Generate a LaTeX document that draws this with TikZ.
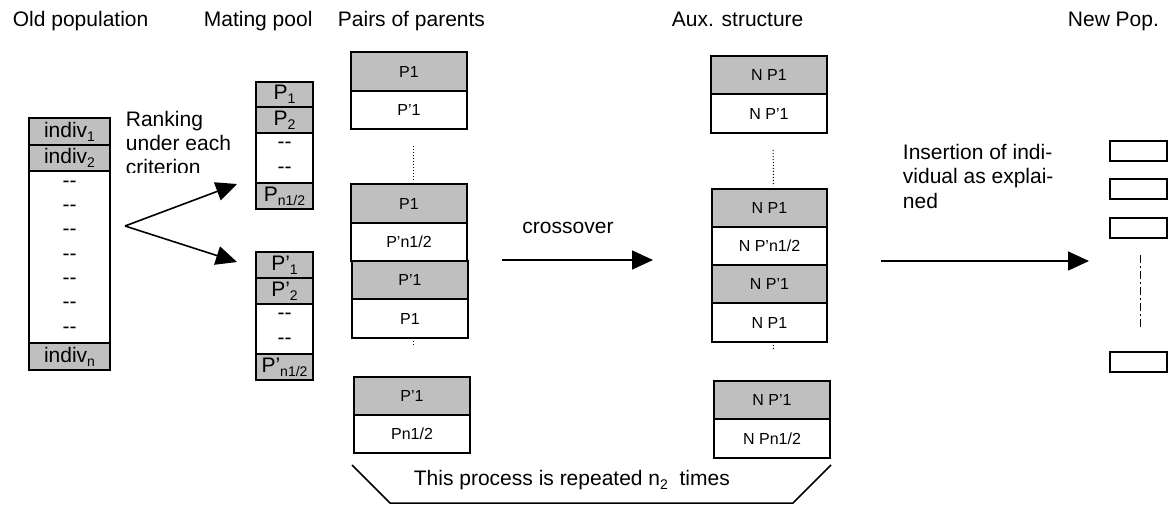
\documentclass[tikz,border=0pt]{standalone}
\usepackage{fontspec}
\setmainfont{Liberation Sans}
\usetikzlibrary{arrows.meta,positioning}

\newcommand{\lowidx}[1]{\raisebox{-4pt}{\fontsize{14}{14}\selectfont #1}}
\newcommand{\twodash}{-\kern0pt-}
\newcommand{\bigfont}{\fontsize{21}{24}\selectfont}
\newcommand{\cellfont}{\fontsize{16}{18}\selectfont}

\begin{document}
\begin{tikzpicture}[x=1pt,y=-1pt,line width=1.8pt,
    cell/.style={draw,inner sep=0pt,outer sep=0pt,anchor=north west,
      minimum width=116pt,minimum height=38pt,font=\cellfont},
    cellg/.style={cell,fill=gray!50},
    cellw/.style={cell,fill=white},
    popcell/.style={cell,minimum width=57pt,minimum height=26pt,font=\bigfont},
    header/.style={anchor=base west,inner sep=0pt,font=\bigfont},
    note/.style={anchor=north west,inner sep=0pt,align=left,font=\bigfont},
    bigarrow/.style={line width=1.6pt,-{Triangle[length=21pt,width=19pt]}}]
  \useasboundingbox (0,0) rectangle (1169,506);

  % column titles
  \node[header] (h_old)   at (12,26)   {Old population};
  \node[header] (h_mate)  at (203,26)  {Mating pool};
  \node[header] (h_pairs) at (337,26)  {Pairs of parents};
  \node[header] (h_aux)   at (671,26)  {Aux. structure};
  \node[header] (h_new)   at (1067,26) {New Pop.};

  % old population
  \node[popcell,fill=gray!50,minimum width=81pt,minimum height=27pt] (old_1) at (29,118) {indiv\lowidx{1}};
  \node[popcell,fill=gray!50,minimum width=81pt] (old_2) [below=0pt of old_1] {indiv\lowidx{2}};
  \node[popcell,fill=white,minimum width=81pt,minimum height=172pt,align=center,
    font=\fontsize{21}{24.3}\selectfont] (old_mid) [below=0pt of old_2]
    {\twodash\\\twodash\\\twodash\\\twodash\\\twodash\\\twodash\\\twodash};
  \node[popcell,fill=gray!50,minimum width=81pt,minimum height=27pt] (old_n) [below=0pt of old_mid] {indiv\lowidx{n}};

  % mating pool
  \node[popcell,fill=gray!50,minimum height=25pt] (mate_1) at (256,82) {P\lowidx{1}};
  \node[popcell,fill=gray!50] (mate_2) [below=0pt of mate_1] {P\lowidx{2}};
  \node[popcell,fill=white,minimum height=50pt,align=center,
    font=\fontsize{21}{25}\selectfont] (mate_mid) [below=0pt of mate_2] {\twodash\\\twodash};
  \node[popcell,fill=gray!50] (mate_n) [below=0pt of mate_mid] {P\lowidx{n1/2}};

  \node[popcell,fill=gray!50] (matep_1) at (256,252) {P’\lowidx{1}};
  \node[popcell,fill=gray!50] (matep_2) [below=0pt of matep_1] {P’\lowidx{2}};
  \node[popcell,fill=white,minimum height=50pt,align=center,
    font=\fontsize{21}{25}\selectfont] (matep_mid) [below=0pt of matep_2] {\twodash\\\twodash};
  \node[popcell,fill=gray!50] (matep_n) [below=0pt of matep_mid] {P’\lowidx{n1/2}};

  % ranking
  \coordinate (fork) at (125,226);
  \coordinate (rank_up) at (237,184);
  \coordinate (rank_down) at (237,262);
  \begin{scope}
    \clip (120,100) rectangle (250,172);
    \node[note] (ranking) at (125,110) {Ranking\\under each\\criterion};
  \end{scope}
  \draw[bigarrow] (fork) -- (rank_up);
  \draw[bigarrow] (fork) -- (rank_down);

  % pairs of parents
  \node[cellg,minimum height=39pt] (pair_1) at (351,52) {P1};
  \node[cellw] (pair_2) [below=0pt of pair_1] {P’1};
  \node[cellg,minimum height=39pt] (pair_3) at (351,184) {P1};
  \node[cellw] (pair_4) [below=0pt of pair_3] {P’n1/2};
  \node[cellg] (pair_5) at (352,261) {P’1};
  \node[cellw,minimum height=39pt] (pair_6) [below=0pt of pair_5] {P1};
  \node[cellg] (pair_7) at (354,377) {P’1};
  \node[cellw] (pair_8) [below=0pt of pair_7] {Pn1/2};
  \draw[dotted,line width=1pt,shorten <=17pt,shorten >=2pt]
    ([xshift=4pt]pair_2.south) -- ([xshift=4pt]pair_3.north);
  \draw[dotted,line width=1pt,shorten >=31pt]
    ([xshift=3pt]pair_6.south) -- ([xshift=1pt]pair_7.north);

  % crossover
  \coordinate (cross_from) at (502,260);
  \coordinate (cross_to) at (653,260);
  \draw[bigarrow] (cross_from) -- (cross_to);
  \node[anchor=base,inner sep=0pt,font=\bigfont] (cross_lbl) at (568,233) {crossover};

  % aux. structure
  \node[cellg] (aux_1) at (711,56) {N P1};
  \node[cellw,minimum height=39pt] (aux_2) [below=0pt of aux_1] {N P’1};
  \node[cellg,minimum width=115pt] (aux_3) at (712,189) {N P1};
  \node[cellw,minimum width=115pt] (aux_4) [below=0pt of aux_3] {N P’n1/2};
  \node[cellg,minimum width=115pt] (aux_5) [below=0pt of aux_4] {N P’1};
  \node[cellw,minimum width=115pt,minimum height=39pt] (aux_6) [below=0pt of aux_5] {N P1};
  \node[cellg] (aux_7) at (714,381) {N P’1};
  \node[cellw,minimum height=39pt] (aux_8) [below=0pt of aux_7] {N Pn1/2};
  \draw[dotted,line width=1pt,shorten <=17pt,shorten >=3pt]
    ([xshift=4pt]aux_2.south) -- ([xshift=4pt]aux_3.north);
  \draw[dotted,line width=1pt,shorten >=31pt]
    ([xshift=4pt]aux_6.south) -- ([xshift=1pt]aux_7.north);

  % insertion
  \node[note,font=\fontsize{21}{24.5}\selectfont] (insert_lbl) at (902,143)
    {Insertion of indi-\\vidual as explai-\\ned};
  \coordinate (ins_from) at (881,261);
  \coordinate (ins_to) at (1089,261);
  \draw[bigarrow] (ins_from) -- (ins_to);

  % new population
  \node[popcell,fill=white,minimum height=20pt] (new_1) at (1110,141) {};
  \node[popcell,fill=white,minimum height=20pt] (new_2) at (1110,179) {};
  \node[popcell,fill=white,minimum height=20pt] (new_3) at (1110,218) {};
  \node[popcell,fill=white,minimum height=20pt] (new_4) at (1110,352) {};
  \draw[line width=1.5pt,dash pattern=on 8pt off 3pt on 2pt off 3pt,
    shorten <=17pt,shorten >=25pt] ([xshift=2pt]new_3.south) -- ([xshift=2pt]new_4.north);

  % repeat bracket
  \draw[line width=1.5pt] (352,465) -- (390,503) -- (793,503) -- (831,465);
  \node[anchor=base west,inner sep=0pt,font=\bigfont] (repeat_lbl) at (413,485)
    {This process is repeated n\lowidx{2}\ \ times};
\end{tikzpicture}
\end{document}
